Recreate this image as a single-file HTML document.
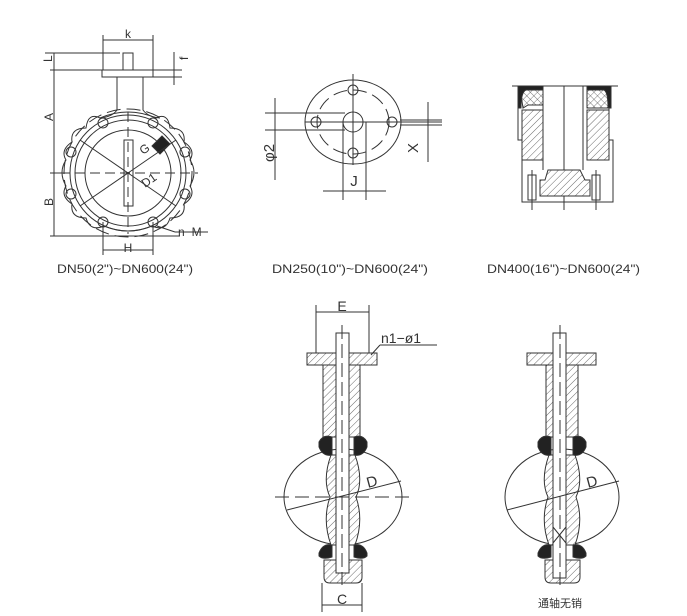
<!DOCTYPE html>
<html><head><meta charset="utf-8"><style>
html,body{margin:0;padding:0;background:#fff}
svg{display:block}
text{font-family:"Liberation Sans","Noto Sans CJK SC",sans-serif;fill:#333}
</style></head><body>
<svg width="687" height="616" viewBox="0 0 687 616" xmlns="http://www.w3.org/2000/svg">
<defs>
<pattern id="h" width="5" height="5" patternUnits="userSpaceOnUse" patternTransform="rotate(45)">
<rect width="5" height="5" fill="#fff"/><line x1="0" y1="0" x2="0" y2="5" stroke="#444" stroke-width="0.8"/></pattern>
<pattern id="x" width="5" height="5" patternUnits="userSpaceOnUse" patternTransform="rotate(45)">
<rect width="5" height="5" fill="#fff"/><line x1="0" y1="0" x2="0" y2="5" stroke="#444" stroke-width="0.7"/><line x1="0" y1="0" x2="5" y2="0" stroke="#444" stroke-width="0.7"/></pattern>
</defs>
<g fill="none" stroke="#333" stroke-width="1">
<!-- LEFT TOP FIGURE -->
<line x1="54" y1="70" x2="54" y2="236"/>
<line x1="50" y1="70" x2="102" y2="70"/><line x1="50" y1="173" x2="60" y2="173"/><line x1="50" y1="236" x2="180" y2="236"/>
<line x1="45" y1="53" x2="120" y2="53"/><line x1="54" y1="53" x2="54" y2="70"/>
<line x1="103" y1="40" x2="153" y2="40"/><line x1="103" y1="35" x2="103" y2="70"/><line x1="153" y1="35" x2="153" y2="70"/>
<line x1="153" y1="70" x2="182" y2="70"/><line x1="153" y1="77" x2="182" y2="77"/><line x1="174" y1="52" x2="174" y2="85"/>
<rect x="102" y="70" width="51" height="7"/>
<rect x="123" y="53" width="10" height="17"/>
<path d="M117 77 V110 Q112 117 100 118 M143 77 V110 Q148 117 160 118"/>
<path d="M100 118 Q88 112 86 128 Q70 128 72 142 Q60 150 66 160 Q58 172 66 186 Q60 196 72 204 Q70 218 86 218 Q90 232 104 226 Q128 236 152 226 Q166 232 170 218 Q186 218 184 204 Q196 196 190 186 Q198 172 190 160 Q196 150 184 142 Q186 128 170 128 Q168 112 156 118 Q128 106 100 118Z"/>
<circle cx="128" cy="173" r="58"/><circle cx="128" cy="173" r="53"/><circle cx="128" cy="173" r="43"/>
<circle cx="128" cy="173" r="64" stroke-dasharray="14 6"/>
<circle cx="103" cy="123" r="5"/><circle cx="153" cy="123" r="5"/><circle cx="71" cy="152" r="5"/><circle cx="185" cy="152" r="5"/>
<circle cx="71" cy="194" r="5"/><circle cx="185" cy="194" r="5"/><circle cx="103" cy="222" r="5"/><circle cx="153" cy="222" r="5"/>
<rect x="124" y="140" width="9" height="66"/>
<path d="M152 146 L162 136 L170 144 L160 154Z" fill="#222"/>
<line x1="80" y1="140" x2="176" y2="206"/><line x1="80" y1="206" x2="176" y2="140"/>
<line x1="60" y1="173" x2="198" y2="173" stroke-dasharray="10 5"/>
<line x1="128" y1="112" x2="128" y2="234" stroke-dasharray="10 5"/>
<line x1="103" y1="222" x2="103" y2="255"/><line x1="153" y1="222" x2="153" y2="255"/><line x1="103" y1="250" x2="153" y2="250"/>
<line x1="157" y1="226" x2="175" y2="232"/><line x1="175" y1="232" x2="208" y2="232"/>
<!-- MIDDLE TOP -->
<ellipse cx="353" cy="122" rx="48" ry="42"/>
<ellipse cx="353" cy="122" rx="36" ry="32" stroke-dasharray="14 6"/>
<circle cx="353" cy="122" r="10"/>
<circle cx="353" cy="90" r="5"/><circle cx="316" cy="122" r="5"/><circle cx="392" cy="122" r="5"/><circle cx="353" cy="153" r="5"/>
<line x1="353" y1="74" x2="353" y2="165"/><line x1="305" y1="122" x2="442" y2="122"/>
<line x1="265" y1="113" x2="345" y2="113"/><line x1="265" y1="130" x2="345" y2="130"/>
<line x1="275" y1="98" x2="275" y2="180"/>
<line x1="428" y1="102" x2="428" y2="162"/><line x1="400" y1="120" x2="442" y2="120"/><line x1="400" y1="125" x2="442" y2="125"/>
<line x1="343" y1="122" x2="343" y2="200"/><line x1="366" y1="122" x2="366" y2="200"/>
<line x1="323" y1="191" x2="386" y2="191"/>
<!-- RIGHT TOP -->
<line x1="512" y1="86" x2="618" y2="86"/>
<path d="M518 86 V140 H522 V202 H613 V140 H609 V86"/>
<rect x="522" y="110" width="21" height="50" fill="url(#h)"/>
<rect x="587" y="110" width="22" height="50" fill="url(#h)"/>
<path d="M520 88 H543 V105 H528 L523 108Z" fill="url(#x)"/>
<path d="M587 88 H610 L608 108 H587Z" fill="url(#x)"/>
<path d="M518 86 H543 V90 H526 Q521 92 521 108 H518Z" fill="#222"/>
<path d="M587 86 H611 V108 H608 Q608 92 604 90 H587Z" fill="#222"/>
<line x1="543" y1="86" x2="543" y2="170"/><line x1="583" y1="86" x2="583" y2="170"/>
<line x1="564" y1="86" x2="564" y2="210"/>
<path d="M548 170 H580 L585 180 H590 V196 H540 V180 H545Z" fill="url(#h)"/>
<rect x="528" y="175" width="8" height="25"/><rect x="592" y="175" width="8" height="25"/>
<line x1="532" y1="170" x2="532" y2="210"/><line x1="596" y1="170" x2="596" y2="210"/>
<!-- BOTTOM LEFT -->
<line x1="316" y1="305" x2="316" y2="353"/><line x1="369" y1="305" x2="369" y2="353"/><line x1="316" y1="312" x2="369" y2="312"/>
<rect x="307" y="353" width="70" height="12" fill="url(#h)"/>
<path d="M323 365 V437 H336 V365Z" fill="url(#h)"/><path d="M349 365 V437 H360 V365Z" fill="url(#h)"/>
<ellipse cx="343" cy="497" rx="59" ry="48"/>
<path d="M331 455 Q322 480 330 497 Q322 520 331 545 H355 Q364 520 356 497 Q364 480 355 455Z" fill="url(#h)"/>
<path d="M319 442 Q323 434 332 437 V455 Q323 457 319 447Z" fill="#222"/>
<path d="M367 442 Q363 434 354 437 V455 Q363 457 367 447Z" fill="#222"/>
<path d="M319 553 Q323 543 332 545 V557 Q323 560 319 556Z" fill="#222"/>
<path d="M367 553 Q363 543 354 545 V557 Q363 560 367 556Z" fill="#222"/>
<path d="M324 560 H362 V577 Q362 583 356 583 H330 Q324 583 324 577Z" fill="url(#h)"/>
<rect x="336" y="333" width="13" height="240" fill="#fff"/>
<line x1="342" y1="325" x2="342" y2="585" stroke-dasharray="14 5"/>
<line x1="275" y1="497" x2="412" y2="497" stroke-dasharray="14 6"/>
<line x1="287" y1="510" x2="401" y2="481"/>
<line x1="322" y1="583" x2="322" y2="612"/><line x1="362" y1="583" x2="362" y2="612"/><line x1="322" y1="605" x2="362" y2="605"/>
<line x1="371" y1="355" x2="380" y2="345"/><line x1="380" y1="345" x2="437" y2="345"/>
<!-- BOTTOM RIGHT -->
<rect x="527" y="353" width="69" height="12" fill="url(#h)"/>
<rect x="546" y="365" width="7" height="72" fill="url(#h)"/><rect x="566" y="365" width="12" height="72" fill="url(#h)"/>
<ellipse cx="562" cy="497" rx="57" ry="48"/>
<path d="M549 455 Q540 480 548 497 Q540 520 549 545 H575 Q584 520 576 497 Q584 480 575 455Z" fill="url(#h)"/>
<path d="M538 442 Q542 434 551 437 V455 Q542 457 538 447Z" fill="#222"/>
<path d="M586 442 Q582 434 573 437 V455 Q582 457 586 447Z" fill="#222"/>
<path d="M538 553 Q542 543 551 545 V557 Q542 560 538 556Z" fill="#222"/>
<path d="M586 553 Q582 543 573 545 V557 Q582 560 586 556Z" fill="#222"/>
<path d="M545 560 H580 V577 Q580 583 574 583 H551 Q545 583 545 577Z" fill="url(#h)"/>
<rect x="553" y="333" width="13" height="245" fill="#fff"/>
<line x1="553" y1="527" x2="566" y2="543"/><line x1="566" y1="527" x2="553" y2="543"/>
<line x1="560" y1="325" x2="560" y2="585" stroke-dasharray="14 5"/>
<line x1="507" y1="510" x2="619" y2="481"/>
</g>
<g font-size="12">
<text x="128" y="38" text-anchor="middle">k</text>
<text x="48" y="66" transform="rotate(-90 48 62)">L</text>
<text x="186" y="66" transform="rotate(-90 184 62)">f</text>
<text x="49" y="125" transform="rotate(-90 49 121)">A</text>
<text x="49" y="210" transform="rotate(-90 49 206)">B</text>
<text x="143" y="155" transform="rotate(-35 143 155)">G</text>
<text x="145" y="188" transform="rotate(-35 145 188)">D1</text>
<text x="178" y="236">n−M</text>
<text x="128" y="252" text-anchor="middle">H</text>
<text x="57" y="273" font-size="12" textLength="136" lengthAdjust="spacingAndGlyphs">DN50(2")~DN600(24")</text>
<text x="266" y="170" font-size="15" transform="rotate(-90 266 162)">φ2</text>
<text x="413" y="158" font-size="15" transform="rotate(-90 413 153)">X</text>
<text x="354" y="186" font-size="15" text-anchor="middle">J</text>
<text x="272" y="273" font-size="12" textLength="156" lengthAdjust="spacingAndGlyphs">DN250(10")~DN600(24")</text>
<text x="487" y="273" font-size="12" textLength="153" lengthAdjust="spacingAndGlyphs">DN400(16")~DN600(24")</text>
<text x="342" y="311" text-anchor="middle" font-size="14">E</text>
<text x="381" y="343" font-size="14">n1−ø1</text>
<text x="368" y="488" font-size="15" transform="rotate(-15 368 488)">D</text>
<text x="588" y="488" font-size="15" transform="rotate(-15 588 488)">D</text>
<text x="342" y="604" text-anchor="middle" font-size="14">C</text>
<text x="560" y="607" text-anchor="middle" font-size="11">通轴无销</text>
</g>
</svg>
</body></html>
